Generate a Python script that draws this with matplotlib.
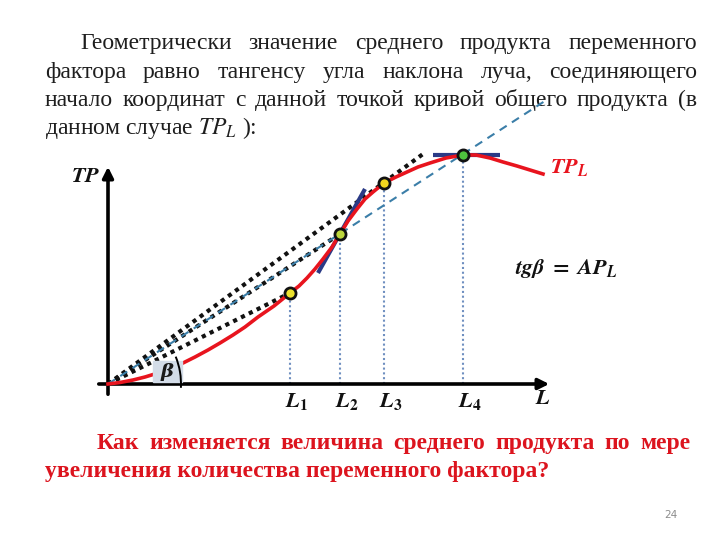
import matplotlib
matplotlib.use('Agg')
import matplotlib.pyplot as plt
from matplotlib.patches import Arc, Rectangle

plt.rcParams['font.family'] = ['Liberation Serif', 'DejaVu Serif']
plt.rcParams['mathtext.fontset'] = 'stix'

# total product curve TP_L (units: L along x, TP along y)
curve_x = [0, 12, 25, 37, 50, 62, 75, 87, 100, 112, 125, 137, 150, 166, 182,
           191, 199, 207, 215, 224, 232, 240, 249, 257, 265, 276, 288, 299,
           310, 322, 338, 355, 368, 382, 395, 409, 422, 435]
curve_y = [0, 1.5, 4, 7, 11, 16, 21, 27, 34, 41, 49, 57, 67, 78, 91,
           98, 106, 115, 125, 137, 150, 163, 175, 185, 192, 201, 207, 212,
           217, 221, 226, 229, 229, 226, 222, 218, 214, 210]

# marked points L1..L4
point_names = ['1', '2', '3', '4']
point_x = [182, 232, 276, 355]
point_y = [91, 150, 201, 229]
point_colors = ['#ECE22E', '#BCD63C', '#F2D61E', '#4EC23E']

# dotted rays from the origin (end points)
ray_x = [182, 232, 315]
ray_y = [91, 150, 230]

# dashed ray through L2 and L4
avg_ray_x = [0, 440]
avg_ray_y = [0, 285]

# tangent segments
tan2_x = [210, 257]
tan2_y = [111, 195]
tan4_x = [325, 392]
tan4_y = [229, 229]

top_lines = ["Геометрически значение среднего продукта переменного",
             "фактора равно тангенсу угла наклона луча, соединяющего",
             "начало координат с данной точкой  кривой общего продукта (в",
             "данном случае $TP_L$ ):"]
bottom_lines = ["Как изменяется величина среднего продукта по мере",
                "увеличения количества переменного фактора?"]

fig = plt.figure(figsize=(7.2, 5.4), dpi=100)
ax = fig.add_axes([0, 0, 1, 1])
ax.set_xlim(-108, 612)
ax.set_ylim(-156, 384)
ax.axis('off')

OX, OY = 108, 384


def px(x, y):
    return x - OX, OY - y


def justify(words, x0, x1, y, **kw):
    r = fig.canvas.get_renderer()
    items = [ax.text(0, 0, w, **kw) for w in words]
    widths = [t.get_window_extent(r).width for t in items]
    gap = (x1 - x0 - sum(widths)) / (len(words) - 1)
    x = x0
    for t, w in zip(items, widths):
        t.set_position(px(x, y))
        x += w + gap


top_kw = dict(fontsize=17, color='#1e1e1e', va='baseline', ha='left')
justify(top_lines[0].split(), 80, 697, 49, **top_kw)
justify(top_lines[1].split(), 45, 697, 78, **top_kw)
justify(top_lines[2].split(), 45, 697, 106, **top_kw)
ax.text(*px(45, 134), top_lines[3], **top_kw)

bot_kw = dict(fontsize=17, color='#DC141E', fontweight='bold', va='baseline', ha='left')
justify(bottom_lines[0].split(), 97, 690, 449, **bot_kw)
ax.text(*px(45, 477), bottom_lines[1], **bot_kw)

ax.text(*px(671, 515), '24', fontsize=7.5, color='#8c8c8c', ha='center', va='center',
        family='DejaVu Sans')

# axes arrows
ax.annotate('', xy=(444, 0), xytext=(-12, 0),
            arrowprops=dict(arrowstyle='-|>', lw=2.6, color='black', mutation_scale=16))
ax.annotate('', xy=(0, 220), xytext=(0, -13),
            arrowprops=dict(arrowstyle='-|>', lw=2.6, color='black', mutation_scale=16))

# vertical guide lines
for x, y in zip(point_x, point_y):
    ax.plot([x, x], [0, y], color='#6f8fc0', lw=1.5, ls=(0, (1, 1.3)), zorder=2)

# rays
for x, y in zip(ray_x, ray_y):
    ax.plot([0, x], [0, y], color='#111111', lw=3.0, ls=(0, (1, 1.1)), zorder=3)
ax.plot(avg_ray_x, avg_ray_y, color='#3b7ea8', lw=1.5, ls=(0, (4, 3)), zorder=4)

# tangents
ax.plot(tan2_x, tan2_y, color='#2a3a86', lw=3, zorder=4, solid_capstyle='butt')
ax.plot(tan4_x, tan4_y, color='#2a3a86', lw=3, zorder=4, solid_capstyle='butt')

# TP curve
ax.plot(curve_x, curve_y, color='#e8141e', lw=2.6, zorder=5, solid_joinstyle='round')

for x, y, c in zip(point_x, point_y, point_colors):
    ax.plot(x, y, 'o', ms=8, mfc=c, mec='#111111', mew=2, zorder=6)

# beta angle
ax.add_patch(Rectangle((45, 2), 29, 21, color='#d3dce8', zorder=6))
ax.text(59, 12, 'β', fontsize=14, ha='center', va='center', color='#1a1a1a',
        family='DejaVu Serif', fontweight='bold', fontstyle='italic', zorder=7)
ax.add_patch(Arc((0, 0), 146, 146, theta1=-3, theta2=22, lw=1.4, color='black', zorder=7))

lab_kw = dict(fontsize=16, ha='center', va='center', color='#111111')
for n, x in zip(point_names, point_x):
    ax.text(x + 7, -17, r'$\mathbfit{L}_{\mathbf{%s}}$' % n, **lab_kw)
ax.text(*px(543, 400), r'$\mathbfit{L}$', **lab_kw)
ax.text(*px(86, 178), r'$\mathbfit{TP}$', **lab_kw)
ax.text(*px(569, 168), r'$\mathbfit{TP}_{\mathbfit{L}}$', fontsize=16, ha='center',
        va='center', color='#e8141e')
ax.text(*px(566, 268), r'$\mathbfit{tg\beta}\ \mathbf{=}\ \mathbfit{AP}_{\mathbfit{L}}$',
        fontsize=16, ha='center', va='center', color='#111111')

fig.savefig('out.png', dpi=100)
